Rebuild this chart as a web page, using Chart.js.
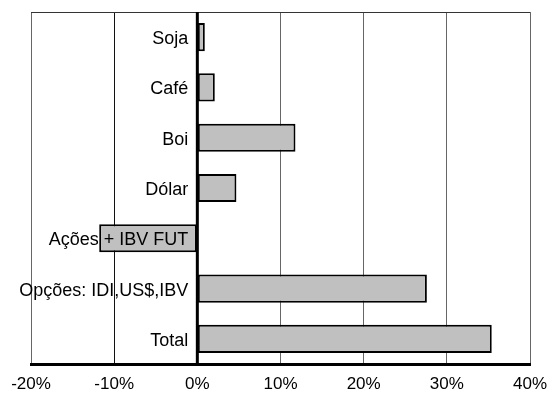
<!DOCTYPE html>
<html>
<head>
<meta charset="utf-8">
<script src="https://cdn.jsdelivr.net/npm/chart.js@4"></script>
<style>
  html, body { margin: 0; padding: 0; background: #fff; }
  #wrap { width: 547px; height: 401px; }
</style>
</head>
<body>
<div id="wrap"><canvas id="chart"></canvas></div>
<script>
const categories = ['Soja', 'Café', 'Boi', 'Dólar', 'Ações + IBV FUT', 'Opções: IDI,US$,IBV', 'Total'];
const values = [0.9, 2.1, 11.8, 4.7, -11.8, 27.6, 35.4];

const FONT = '"Liberation Sans", Arial, sans-serif';

// category names are drawn just left of the zero line, on top of everything
const zeroLabels = {
  id: 'zeroLabels',
  afterDatasetsDraw(chart) {
    const { ctx, chartArea, scales: { x, y } } = chart;
    ctx.save();
    // top frame line
    ctx.strokeStyle = '#333';
    ctx.lineWidth = 1;
    ctx.beginPath();
    ctx.moveTo(chartArea.left, chartArea.top + 0.5);
    ctx.lineTo(chartArea.right, chartArea.top + 0.5);
    ctx.stroke();
    // zero line
    const x0 = x.getPixelForValue(0);
    ctx.strokeStyle = '#000';
    ctx.lineWidth = 3;
    ctx.beginPath();
    ctx.moveTo(x0, chartArea.top);
    ctx.lineTo(x0, chartArea.bottom);
    ctx.stroke();
    ctx.font = '18px ' + FONT;
    ctx.fillStyle = '#000';
    ctx.textAlign = 'right';
    ctx.textBaseline = 'middle';
    categories.forEach((c, i) => {
      ctx.fillText(c, x0 - 9, y.getPixelForValue(i) + 2);
    });
    ctx.restore();
  }
};

new Chart(
  document.getElementById('chart'),
  {
    type: 'bar',
    data: {
      labels: categories,
      datasets: [
        {
          data: values,
          backgroundColor: '#c0c0c0',
          borderColor: '#000',
          borderWidth: 2,
          borderSkipped: false,
          barPercentage: 0.56,
          categoryPercentage: 1
        }
      ]
    },
    options: {
      indexAxis: 'y',
      responsive: true,
      maintainAspectRatio: false,
      animation: false,
      layout: { padding: { left: 31, right: 17, top: 12, bottom: 0 } },
      plugins: { legend: { display: false }, tooltip: { enabled: false } },
      scales: {
        x: {
          min: -20,
          max: 40,
          afterFit: s => { s.height = 37; s.paddingLeft = 0; s.paddingRight = 0; },
          ticks: {
            stepSize: 10,
            padding: 10,
            color: '#000',
            font: { family: FONT, size: 17 },
            callback: v => v + '%'
          },
          grid: {
            drawTicks: false,
            color: c => (c.tick && c.tick.value === -10 ? '#111' : '#666'),
            lineWidth: 1
          },
          border: { display: true, color: '#000', width: 3 }
        },
        y: { display: false }
      }
    },
    plugins: [zeroLabels]
  }
);
</script>
</body>
</html>
